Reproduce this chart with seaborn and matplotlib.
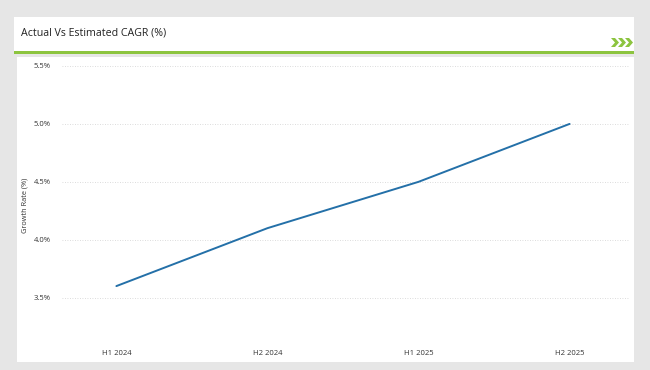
import matplotlib
matplotlib.use("Agg")
import matplotlib.pyplot as plt
from matplotlib.patches import Rectangle, Polygon
import pandas as pd
import seaborn as sns

periods = ["H1 2024", "H2 2024", "H1 2025", "H2 2025"]
growth = [3.6, 4.1, 4.5, 5.0]
y_ticks = [3.5, 4.0, 4.5, 5.0, 5.5]
title = "Actual Vs Estimated CAGR (%)"
y_label = "Growth Rate (%)"

W, H = 650, 370
GREEN = "#8cc43f"
BLUE = "#2470a8"

sns.set_theme(style="white")
plt.rcParams["font.family"] = ["Open Sans", "DejaVu Sans"]

fig = plt.figure(figsize=(W / 100, H / 100), dpi=100)
fig.patch.set_facecolor("#e6e6e6")


def px_rect(x0, y0, x1, y1, color):
    fig.patches.append(Rectangle((x0 / W, 1 - y1 / H), (x1 - x0) / W, (y1 - y0) / H,
                                 transform=fig.transFigure, facecolor=color,
                                 edgecolor="none", zorder=0))


# header panel, green rule, chart panel
px_rect(14, 17, 634, 51, "white")
px_rect(14, 51, 634, 54, GREEN)
px_rect(17, 57, 634, 362, "white")

fig.text(21 / W, 1 - 33 / H, title, fontsize=7.7, color="#222222",
         ha="left", va="center")

# chevrons at the right of the header
for i in range(3):
    x0 = 611 + i * 7
    pts = [(x0, 38), (x0 + 4, 38), (x0 + 8, 42.5), (x0 + 4, 47), (x0, 47), (x0 + 4, 42.5)]
    fig.patches.append(Polygon([(x / W, 1 - y / H) for x, y in pts], closed=True,
                               transform=fig.transFigure, facecolor=GREEN,
                               edgecolor="none", zorder=1))

ax_left, ax_right, ax_top, ax_bottom = 62, 630, 66, 344
ax = fig.add_axes([ax_left / W, 1 - ax_bottom / H, (ax_right - ax_left) / W,
                   (ax_bottom - ax_top) / H])
ax.set_zorder(5)
ax.set_facecolor("none")

df = pd.DataFrame({"period": periods, "growth": growth})
sns.lineplot(data=df, x="period", y="growth", ax=ax, color=BLUE, linewidth=1.4, sort=False)

ax.set_ylim(3.1, 5.5)
ax.set_xlim(-0.36, 3.4)
ax.set_yticks(y_ticks)
ax.set_yticklabels([f"{v:.1f}%" for v in y_ticks])
ax.yaxis.grid(True, linestyle=(0, (1, 2)), color="#d0d0d0", linewidth=0.6)
ax.xaxis.grid(False)
for s in ax.spines.values():
    s.set_visible(False)
ax.tick_params(axis="both", length=0, labelsize=5.5, colors="#333333")
ax.tick_params(axis="x", pad=4)
ax.tick_params(axis="y", pad=8)
ax.set_xlabel("")
ax.set_ylabel("")
fig.text(25 / W, 1 - 205 / H, y_label, rotation=90, fontsize=5.3, color="#333333",
         ha="center", va="center")

fig.savefig("out.png", dpi=100, facecolor=fig.get_facecolor())
